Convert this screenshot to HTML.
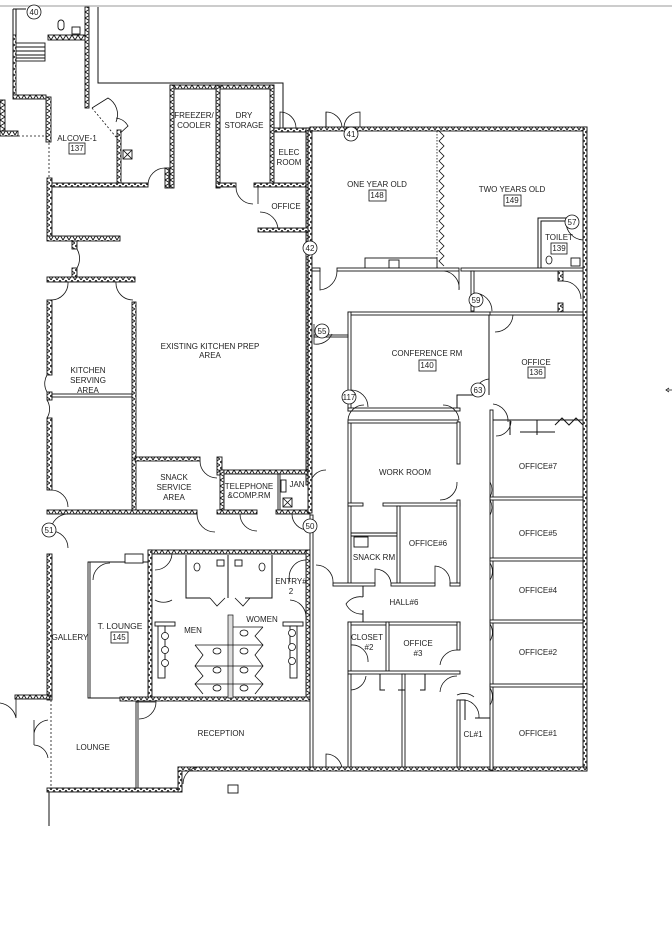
<!DOCTYPE html>
<html><head><meta charset="utf-8"><style>
html,body{margin:0;padding:0;background:#fff}
svg{display:block}
text{font-family:"Liberation Sans",sans-serif;font-size:8px;fill:#222;text-anchor:middle}
.H{fill:url(#hz);stroke:#111;stroke-width:.9}
.V{fill:url(#vz);stroke:#111;stroke-width:.9}
.T{fill:#fff;stroke:#111;stroke-width:.9}
.L{stroke:#111;stroke-width:1;fill:none}
.d{stroke:#111;stroke-width:.8;fill:none}
.c{fill:#fff;stroke:#111;stroke-width:.8}
.b{fill:#fff;stroke:#111;stroke-width:.8}
</style></head><body>
<svg width="672" height="926" viewBox="0 0 672 926" xmlns="http://www.w3.org/2000/svg">
<defs>
<pattern id="hz" width="6" height="5" patternUnits="userSpaceOnUse"><rect width="6" height="5" fill="#fff"/><path d="M0,0 L3,5 L6,0" stroke="#111" stroke-width=".9" fill="none"/></pattern>
<pattern id="vz" width="5" height="6" patternUnits="userSpaceOnUse"><rect width="5" height="6" fill="#fff"/><path d="M0,0 L5,3 L0,6" stroke="#111" stroke-width=".9" fill="none"/></pattern>
</defs>
<line x1="0" y1="6" x2="672" y2="6" stroke="#ccc" stroke-width="2"/>

<!-- top-left -->
<rect class="V" x="85" y="7" width="4" height="101"/>
<path class="L" d="M98,7 V83 H283 V128"/>
<path class="L" d="M13,9 H26 M13,9 V97 M16,9 V35"/>
<rect class="T" x="15" y="43" width="30" height="18"/>
<path class="L" d="M15,47 H45 M15,51 H45 M15,55 H45 M15,58 H45"/>
<rect class="V" x="13" y="35" width="3" height="62"/>
<rect class="H" x="48" y="35" width="37" height="5"/>
<rect class="T" x="58" y="20" width="6" height="10" rx="3"/><rect class="T" x="72" y="27" width="8" height="7"/>
<rect class="H" x="13" y="95" width="33" height="4"/>
<rect class="V" x="46" y="97" width="5" height="45"/>
<rect class="V" x="0" y="100" width="5" height="35"/>
<rect class="H" x="0" y="131" width="18" height="5"/>
<path class="d" stroke-dasharray="2,2" d="M18,136 H47 M49,143 V178 M92,108 L116,137"/>
<path class="d" d="M92,108 L108,98 A19,19 0 0,1 116,122 M116,137 L128,126 A16,16 0 0,0 116,118"/>
<rect class="V" x="117" y="130" width="4" height="55"/>
<rect class="T" x="123" y="150" width="9" height="9"/><path class="d" d="M123,150 L132,159 M132,150 L123,159"/>
<rect class="V" x="47" y="178" width="5" height="62"/>
<rect class="H" x="52" y="183" width="96" height="4"/>
<rect class="V" x="165" y="168" width="4" height="20"/>
<path class="d" d="M148,185 A17,17 0 0,1 165,168"/>
<!-- freezer / dry -->
<rect class="H" x="170" y="85" width="104" height="4"/>
<rect class="V" x="170" y="85" width="4" height="103"/>
<rect class="V" x="216" y="85" width="4" height="103"/>
<rect class="V" x="270" y="85" width="4" height="100"/>
<rect class="H" x="216" y="183" width="20" height="4"/>
<rect class="H" x="254" y="183" width="56" height="4"/>
<path class="d" d="M236,187 A17,17 0 0,0 253,204 M258,187 V204 M260,212 A18,18 0 0,1 278,230"/>
<rect class="H" x="274" y="128" width="36" height="4"/>
<rect class="V" x="306" y="128" width="4" height="357"/>
<rect class="H" x="258" y="228" width="52" height="4"/>
<path class="d" d="M280,128 V112 A16,16 0 0,1 296,128 M326,128 V112"/>
<!-- left walls -->
<rect class="H" x="47" y="236" width="73" height="5"/>
<rect class="V" x="72" y="241" width="5" height="8"/>
<rect class="V" x="72" y="268" width="5" height="10"/>
<path class="d" d="M77,249 A19,19 0 0,1 77,268"/>
<rect class="H" x="47" y="277" width="88" height="5"/>
<path class="d" d="M68,282 A17,17 0 0,1 51,300 M116,282 A17,17 0 0,0 133,300"/>
<rect class="V" x="47" y="300" width="5" height="75"/>
<rect class="V" x="47" y="392" width="5" height="8"/>
<rect class="V" x="47" y="418" width="5" height="72"/>
<path class="d" d="M47,375 A17,17 0 0,0 47,392 M47,400 A17,17 0 0,1 47,418 M51,490 A17,17 0 0,1 68,507"/>
<rect class="T" x="52" y="394" width="80" height="3"/>
<rect class="V" x="132" y="302" width="4" height="208"/>
<!-- snack / telephone -->
<rect class="H" x="135" y="457" width="65" height="4"/>
<rect class="V" x="217" y="457" width="5" height="18"/>
<path class="d" d="M200,461 A17,17 0 0,0 217,478"/>
<rect class="H" x="222" y="470" width="88" height="4"/>
<rect class="V" x="220" y="470" width="4" height="40"/>
<rect class="T" x="278" y="474" width="2" height="36"/>
<rect class="T" x="281" y="480" width="5" height="12"/>
<rect class="T" x="283" y="498" width="9" height="9"/><path class="d" d="M283,498 L292,507 M292,498 L283,507"/>
<path class="d" d="M310,486 A16,16 0 0,1 326,470"/>
<rect class="H" x="47" y="510" width="150" height="4"/>
<rect class="H" x="217" y="510" width="40" height="4"/>
<rect class="H" x="276" y="510" width="34" height="4"/>
<path class="d" d="M197,514 A18,18 0 0,0 215,532 M240,514 A17,17 0 0,0 257,531 M292,514 A16,16 0 0,0 308,530"/>
<path class="d" d="M51,531 A17,17 0 0,1 68,514 M51,531 A17,17 0 0,1 68,548"/>
<!-- gallery / lounge -->
<rect class="V" x="47" y="554" width="5" height="146"/>
<rect class="H" x="15" y="695" width="35" height="4"/>
<path class="d" stroke-dasharray="2,2" d="M51,700 V788"/>
<path class="d" d="M16,699 V718 A19,19 0 0,0 0,703 M34,720 V745 M34,733 A16,16 0 0,1 48,720 M34,745 A15,15 0 0,1 48,758"/>
<rect class="H" x="47" y="788" width="135" height="4"/>
<line class="L" x1="49" y1="792" x2="49" y2="826"/>
<rect class="V" x="178" y="767" width="4" height="25"/>
<rect class="H" x="178" y="767" width="135" height="4"/>
<rect class="T" x="228" y="785" width="10" height="8"/>
<path class="d" d="M200,767 A17,17 0 0,0 183,784 M326,770 V754 A16,16 0 0,1 342,770"/>
<rect class="T" x="136" y="702" width="2" height="86"/>
<path class="d" d="M138,702 H156 A17,17 0 0,1 139,719"/>
<rect class="T" x="88" y="562" width="2" height="136"/>
<path class="L" d="M88,562 H148 M88,698 H148"/>
<path class="d" d="M93,580 A17,17 0 0,1 110,563"/>
<rect class="T" x="125" y="554" width="18" height="9"/>
<!-- restroom block -->
<rect class="H" x="148" y="550" width="162" height="4"/>
<rect class="V" x="148" y="550" width="4" height="148"/>
<rect class="V" x="306" y="550" width="4" height="148"/>
<rect class="H" x="120" y="697" width="190" height="4"/>
<path class="L" d="M186,555 V598 H210 M245,598 H272 V555 M228,555 V598"/>
<path class="d" d="M155,570 A17,17 0 0,0 172,554 M155,600 A17,17 0 0,0 172,600 M210,598 L217,606 L225,598 M235,598 L243,606 L250,598 M290,582 A17,17 0 0,1 306,560 M290,600 A17,17 0 0,1 306,617"/>
<rect x="228" y="615" width="5" height="83" fill="#ddd" stroke="#111" stroke-width=".7"/>
<rect class="T" x="155" y="622" width="20" height="4"/><rect class="T" x="158" y="626" width="7" height="52"/>
<rect class="T" x="283" y="622" width="20" height="4"/><rect class="T" x="290" y="626" width="7" height="52"/>
<g class="c"><circle cx="165" cy="636" r="3.5"/><circle cx="165" cy="650" r="3.5"/><circle cx="165" cy="663" r="3.5"/><circle cx="292" cy="633" r="3.5"/><circle cx="292" cy="647" r="3.5"/><circle cx="292" cy="661" r="3.5"/></g>
<path class="d" d="M195,645 H263 M195,666 H263 M195,684 H263 M233,627 H263 M195,645 L203,655 L195,666 L203,676 L195,684 L203,694 M263,627 L255,636 L263,645 L255,655 L263,666 L255,676 L263,684 L255,694"/>
<g class="c"><ellipse cx="217" cy="651" rx="4" ry="3"/><ellipse cx="217" cy="670" rx="4" ry="3"/><ellipse cx="217" cy="688" rx="4" ry="3"/><ellipse cx="244" cy="633" rx="4" ry="3"/><ellipse cx="244" cy="651" rx="4" ry="3"/><ellipse cx="244" cy="670" rx="4" ry="3"/><ellipse cx="244" cy="688" rx="4" ry="3"/><ellipse cx="197" cy="567" rx="3" ry="4"/><ellipse cx="262" cy="567" rx="3" ry="4"/></g>
<rect class="T" x="217" y="560" width="7" height="6"/><rect class="T" x="235" y="560" width="7" height="6"/>

<!-- right building -->
<rect class="H" x="310" y="127" width="277" height="4"/>
<rect class="V" x="583" y="127" width="4" height="644"/>
<rect class="H" x="310" y="767" width="277" height="4"/>
<rect class="V" x="308" y="131" width="4" height="382"/>
<rect class="T" x="310" y="515" width="3" height="252"/>
<path class="d" d="M326,127 V112 A16,16 0 0,1 342,127 M360,127 V112 A16,16 0 0,0 344,127"/>
<path class="d" stroke-dasharray="1.5,1.5" d="M437,131 V270"/>
<path class="d" d="M439,131 L444,136 L439,141 L444,146 L439,151 L444,156 L439,161 L444,166 L439,171 L444,176 L439,181 L444,186 L439,191 L444,196 L439,201 L444,206 L439,211 L444,216 L439,221 L444,226 L439,231 L444,236 L439,241 L444,246 L439,251 L444,256 L439,261 L444,266"/>
<rect class="T" x="365" y="258" width="72" height="11"/>
<rect class="T" x="389" y="260" width="10" height="8"/>
<rect class="T" x="312" y="268" width="8" height="3"/>
<rect class="T" x="337" y="268" width="122" height="3"/>
<rect class="T" x="461" y="268" width="122" height="3"/>
<path class="d" d="M320,271 V290 A19,19 0 0,0 337,271 M459,271 V290 A17,17 0 0,0 444,271"/>
<path class="L" d="M538,268 V218 H570 M541,268 V221 H566"/>
<rect class="T" x="571" y="258" width="9" height="8"/><ellipse class="c" cx="549" cy="260" rx="3" ry="4"/>
<path class="d" d="M583,218 V240 M583,240 A18,18 0 0,1 566,222"/>
<rect class="T" x="471" y="271" width="3" height="40"/>
<rect class="V" x="558" y="271" width="5" height="10"/><rect class="V" x="558" y="303" width="5" height="10"/>
<path class="d" d="M563,281 A18,18 0 0,1 581,299 M474,293 A18,18 0 0,1 492,311"/>
<!-- conference -->
<rect class="T" x="348" y="312" width="144" height="3"/>
<rect class="T" x="348" y="312" width="3" height="99"/>
<rect class="T" x="348" y="408" width="112" height="3"/>
<path class="L" d="M457,408 V395 H473 M489,315 V395"/>
<rect class="T" x="490" y="312" width="93" height="3"/>
<rect class="T" x="314" y="335" width="34" height="2"/>
<path class="d" d="M314,324 V344 A17,17 0 0,0 332,334 M351,390 A17,17 0 0,1 368,407 M489,379 A17,17 0 0,0 474,394 M495,332 A18,18 0 0,0 513,315 M493,404 A17,17 0 0,1 508,422"/>
<rect class="T" x="490" y="410" width="3" height="360"/>
<path class="L" d="M493,420 H583 M510,420 V435 M537,420 V435 M520,432 H555 M555,425 L562,418 L569,425 L576,418 L583,425"/>
<path class="d" d="M496,436 A15,15 0 0,0 511,421"/>
<!-- offices right column -->
<rect class="T" x="490" y="497" width="93" height="3"/>
<rect class="T" x="490" y="558" width="93" height="3"/>
<rect class="T" x="490" y="620" width="93" height="3"/>
<rect class="T" x="490" y="684" width="93" height="3"/>
<path class="d" d="M490,482 A16,16 0 0,1 490,497 M490,500 A16,16 0 0,1 490,515 M490,563 A16,16 0 0,1 490,580 M490,624 A16,16 0 0,1 490,641 M490,688 A16,16 0 0,1 490,705"/>
<!-- left column -->
<rect class="T" x="348" y="422" width="3" height="163"/>
<rect class="T" x="348" y="420" width="110" height="3"/>
<path class="d" d="M348,420 A16,16 0 0,1 364,405 M459,420 A16,16 0 0,0 443,405"/>
<rect class="T" x="457" y="422" width="3" height="42"/>
<path class="d" d="M457,482 A17,17 0 0,1 440,500"/>
<rect class="T" x="348" y="503" width="15" height="3"/><rect class="T" x="383" y="503" width="77" height="3"/>
<rect class="T" x="397" y="506" width="3" height="78"/>
<rect class="T" x="457" y="500" width="3" height="84"/>
<path class="L" d="M351,533 H397 M351,536 H397"/>
<rect class="T" x="354" y="537" width="14" height="10"/>
<rect class="T" x="333" y="583" width="42" height="3"/><rect class="T" x="391" y="583" width="44" height="3"/><rect class="T" x="450" y="583" width="10" height="3"/>
<path class="d" d="M375,583 V569 A16,16 0 0,1 391,583 M435,583 V566 A16,16 0 0,1 450,583 M316,565 A17,17 0 0,1 333,583"/>
<path class="L" d="M363,586 V597 M363,610 V622"/>
<path class="d" d="M363,597 A17,17 0 0,0 346,604 A17,17 0 0,0 363,614"/>
<rect class="T" x="348" y="622" width="112" height="3"/>
<rect class="T" x="348" y="622" width="3" height="49"/>
<rect class="T" x="386" y="622" width="3" height="49"/>
<rect class="T" x="457" y="622" width="3" height="28"/>
<path class="d" d="M457,650 A17,17 0 0,0 440,665 M351,645 A16,16 0 0,1 368,662 M457,676 A17,17 0 0,0 440,692 M457,695 A16,16 0 0,1 474,697"/>
<rect class="T" x="348" y="671" width="112" height="3"/>
<rect class="T" x="348" y="674" width="3" height="93"/>
<rect class="T" x="402" y="674" width="3" height="93"/>
<path class="L" d="M380,674 V690 H385 M398,690 H405 M425,674 V690 H420"/>
<path class="d" d="M351,690 A16,16 0 0,0 366,676"/>
<rect class="T" x="457" y="700" width="3" height="67"/>
<path class="L" d="M460,700 H465 V720 M475,718 H490"/>
<path class="d" d="M465,700 A17,17 0 0,1 479,718"/>
<path class="d" d="M668,390 H672 M669,388 L666,390 L669,392"/>

<!-- tags -->
<g class="c"><circle cx="34" cy="12" r="7"/><circle cx="351" cy="134" r="7"/><circle cx="310" cy="248" r="7"/><circle cx="322" cy="331" r="7"/><circle cx="349" cy="397" r="7"/><circle cx="478" cy="390" r="7"/><circle cx="476" cy="300" r="7"/><circle cx="572" cy="222" r="7"/><circle cx="49" cy="530" r="7"/><circle cx="310" cy="526" r="7"/></g>
<g style="font-size:7px"><text x="34" y="15">40</text><text x="351" y="137">41</text><text x="310" y="251">42</text><text x="322" y="334">55</text><text x="349" y="400">117</text><text x="478" y="393">63</text><text x="476" y="303">59</text><text x="572" y="225">57</text><text x="49" y="533">51</text><text x="310" y="529">50</text></g>
<g class="b"><rect x="69" y="143" width="16" height="11"/><rect x="369" y="190" width="17" height="11"/><rect x="504" y="195" width="17" height="11"/><rect x="551" y="243" width="16" height="11"/><rect x="419" y="360" width="17" height="11"/><rect x="528" y="367" width="17" height="11"/><rect x="111" y="632" width="17" height="11"/></g>
<g style="font-size:7.5px"><text x="77" y="151">137</text><text x="377" y="198">148</text><text x="512" y="203">149</text><text x="559" y="251">139</text><text x="427" y="368">140</text><text x="536" y="375">136</text><text x="119" y="640">145</text></g>

<!-- labels -->
<text x="77" y="141">ALCOVE-1</text>
<text x="194" y="118">FREEZER/</text><text x="194" y="128">COOLER</text>
<text x="244" y="118">DRY</text><text x="244" y="128">STORAGE</text>
<text x="289" y="155">ELEC</text><text x="289" y="165">ROOM</text>
<text x="286" y="209">OFFICE</text>
<text x="377" y="187">ONE YEAR OLD</text>
<text x="512" y="192">TWO YEARS OLD</text>
<text x="559" y="240">TOILET</text>
<text x="427" y="356">CONFERENCE RM</text>
<text x="536" y="365">OFFICE</text>
<text x="210" y="349">EXISTING KITCHEN PREP</text><text x="210" y="358">AREA</text>
<text x="88" y="373">KITCHEN</text><text x="88" y="383">SERVING</text><text x="88" y="393">AREA</text>
<text x="174" y="480">SNACK</text><text x="174" y="490">SERVICE</text><text x="174" y="500">AREA</text>
<text x="249" y="489">TELEPHONE</text><text x="249" y="498">&amp;COMP.RM</text>
<text x="297" y="487">JAN</text>
<text x="405" y="475">WORK ROOM</text>
<text x="428" y="546">OFFICE#6</text>
<text x="374" y="560">SNACK RM</text>
<text x="404" y="605">HALL#6</text>
<text x="367" y="640">CLOSET</text><text x="369" y="650">#2</text>
<text x="418" y="646">OFFICE</text><text x="418" y="656">#3</text>
<text x="473" y="737">CL#1</text>
<text x="538" y="469">OFFICE#7</text>
<text x="538" y="536">OFFICE#5</text>
<text x="538" y="593">OFFICE#4</text>
<text x="538" y="655">OFFICE#2</text>
<text x="538" y="736">OFFICE#1</text>
<text x="193" y="633">MEN</text>
<text x="262" y="622">WOMEN</text>
<text x="291" y="584">ENTRY#</text><text x="291" y="594">2</text>
<text x="120" y="629" style="font-size:8.5px">T. LOUNGE</text>
<text x="70" y="640">GALLERY</text>
<text x="93" y="750">LOUNGE</text>
<text x="221" y="736">RECEPTION</text>
</svg>
</body></html>
